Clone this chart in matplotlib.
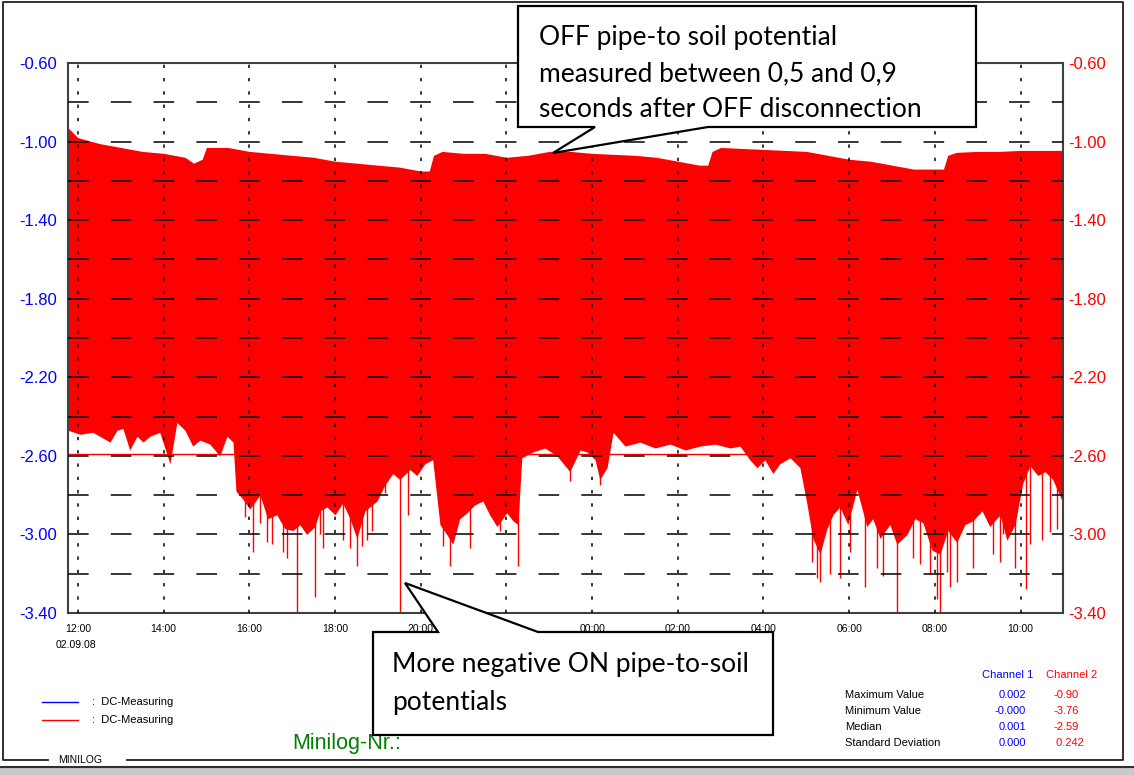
import numpy as np
import matplotlib
matplotlib.use("Agg")
import matplotlib.pyplot as plt
from matplotlib.patches import Polygon, Rectangle
from matplotlib.lines import Line2D

# time axis in hours since midnight of 02.09.08 (values > 24 are the next day)
t_upper = [11.77, 12.0, 12.5, 13.0, 13.5, 14.0, 14.5, 14.7, 14.9, 15.0, 15.5, 16.0,
           16.5, 17.0, 17.5, 18.0, 18.5, 19.0, 19.5, 20.0, 20.2, 20.3, 20.5, 21.0,
           21.5, 22.0, 22.5, 23.0, 23.5, 24.0, 24.5, 25.0, 25.5, 26.0, 26.5, 26.7,
           26.8, 27.0, 27.5, 28.0, 28.5, 29.0, 29.5, 30.0, 30.5, 31.0, 31.5, 32.0,
           32.2, 32.3, 32.5, 33.0, 33.5, 34.0, 34.5, 34.99]
v_upper = [-0.93, -0.98, -1.01, -1.03, -1.05, -1.06, -1.08, -1.11, -1.09, -1.03, -1.03, -1.05,
           -1.06, -1.07, -1.08, -1.10, -1.11, -1.12, -1.13, -1.15, -1.15, -1.07, -1.05, -1.06,
           -1.06, -1.08, -1.07, -1.05, -1.05, -1.06, -1.065, -1.07, -1.08, -1.10, -1.12, -1.12,
           -1.05, -1.03, -1.035, -1.04, -1.045, -1.05, -1.07, -1.09, -1.10, -1.12, -1.14, -1.14,
           -1.14, -1.07, -1.055, -1.05, -1.05, -1.045, -1.045, -1.045]

t_lower = [11.77, 12.05, 12.35, 12.51, 12.75, 12.91, 13.05, 13.21, 13.38, 13.52, 13.68, 13.91,
           14.15, 14.31, 14.50, 14.68, 14.85, 15.08, 15.31, 15.48, 15.62, 15.69, 15.85, 16.01,
           16.25, 16.43, 16.64, 16.83, 17.02, 17.18, 17.34, 17.53, 17.65, 17.81, 18.00, 18.18,
           18.35, 18.51, 18.70, 18.98, 19.16, 19.35, 19.51, 19.75, 19.91, 20.10, 20.28, 20.45,
           20.61, 20.75, 20.91, 21.08, 21.26, 21.45, 21.61, 21.78, 22.01, 22.15, 22.27, 22.36,
           22.62, 22.90, 23.18, 23.48, 23.72, 23.88, 24.07, 24.18, 24.35, 24.49, 24.77, 25.12,
           25.47, 25.82, 26.17, 26.52, 26.87, 27.22, 27.45, 27.68, 27.85, 28.03, 28.22, 28.38,
           28.62, 28.85, 29.01, 29.15, 29.32, 29.48, 29.62, 29.78, 29.97, 30.18, 30.41, 30.55,
           30.72, 30.95, 31.11, 31.35, 31.53, 31.72, 31.93, 32.12, 32.30, 32.51, 32.70, 32.89,
           33.10, 33.28, 33.52, 33.68, 33.87, 34.05, 34.22, 34.40, 34.57, 34.75, 34.99]
v_lower = [-2.47, -2.49, -2.48, -2.50, -2.53, -2.47, -2.46, -2.57, -2.50, -2.53, -2.50, -2.48,
           -2.64, -2.43, -2.47, -2.55, -2.52, -2.54, -2.60, -2.50, -2.53, -2.78, -2.82, -2.87,
           -2.80, -2.92, -2.90, -2.97, -2.98, -2.95, -3.00, -2.96, -2.88, -2.86, -2.90, -2.84,
           -2.92, -3.02, -2.88, -2.83, -2.75, -2.69, -2.72, -2.67, -2.70, -2.64, -2.62, -2.95,
           -3.00, -3.05, -2.92, -2.89, -2.85, -2.83, -2.90, -2.96, -2.89, -2.93, -2.95, -2.61,
           -2.58, -2.56, -2.60, -2.68, -2.57, -2.58, -2.62, -2.72, -2.66, -2.48, -2.55, -2.53,
           -2.56, -2.54, -2.57, -2.55, -2.54, -2.56, -2.55, -2.62, -2.66, -2.62, -2.69, -2.64,
           -2.61, -2.66, -2.84, -3.02, -3.10, -2.97, -2.90, -2.86, -2.95, -2.77, -2.96, -2.92,
           -3.02, -2.95, -3.05, -3.00, -2.92, -2.94, -3.08, -3.10, -2.98, -3.04, -2.95, -2.93,
           -2.88, -2.96, -2.90, -3.03, -2.95, -2.74, -2.65, -2.70, -2.68, -2.72, -2.84]

# single deep ON readings
spike_t = [15.90, 16.08, 16.25, 16.41, 16.53, 16.78, 16.88, 17.11, 17.34, 17.53, 17.65,
           17.72, 18.18, 18.35, 18.51, 18.63, 18.74, 18.86, 19.16, 19.51, 19.70,
           20.52, 20.68, 21.15, 21.85, 22.27, 23.48, 24.18, 29.13, 29.25, 29.32, 29.55,
           29.78, 30.01, 30.37, 30.65, 30.79, 31.11, 31.25, 31.49, 31.65, 31.88, 32.05,
           32.12, 32.28, 32.35, 32.51, 32.89, 33.35, 33.52, 33.59, 33.87, 34.12, 34.22,
           34.50, 34.68, 34.85]
spike_v = [-2.91, -3.09, -2.94, -3.04, -3.05, -3.09, -3.12, -3.40, -2.99, -3.32, -3.00,
           -3.07, -3.03, -3.07, -3.16, -3.06, -3.03, -2.98, -2.79, -3.40, -2.90,
           -3.06, -3.16, -3.07, -2.98, -3.16, -2.73, -2.75, -3.14, -3.22, -3.24, -3.20,
           -3.22, -3.09, -3.27, -3.17, -3.21, -3.40, -3.01, -3.12, -3.15, -3.20, -3.33,
           -3.40, -3.19, -3.27, -3.24, -3.17, -3.10, -3.14, -3.00, -3.17, -3.28, -3.05,
           -3.03, -2.99, -2.97]

median_ch2 = -2.59

x_ticks = [12, 14, 16, 18, 20, 22, 24, 26, 28, 30, 32, 34]
x_labels = ["12:00", "14:00", "16:00", "18:00", "20:00", "", "00:00", "02:00",
            "04:00", "06:00", "08:00", "10:00"]
y_ticks = [-0.6, -1.0, -1.4, -1.8, -2.2, -2.6, -3.0, -3.4]
y_grid = [-0.8, -1.0, -1.2, -1.4, -1.6, -1.8, -2.0, -2.2, -2.4, -2.6, -2.8, -3.0, -3.2]

stat_names = ["Maximum Value", "Minimum Value", "Median", "Standard Deviation"]
stat_ch1 = ["0.002", "-0.000", "0.001", "0.000"]
stat_ch2 = ["-0.90", "-3.76", "-2.59", " 0.242"]

W, H = 1134, 775
def fx(x):
    return x / W
def fy(y):
    return 1 - y / H

sans = ["Liberation Sans", "DejaVu Sans"]
callout_font = ["Lato", "DejaVu Sans"]

fig = plt.figure(figsize=(W / 100, H / 100), dpi=100)
ax = fig.add_axes([fx(68), fy(613), (1063 - 68) / W, (613 - 63) / H])

red = "#ff0000"
ax.axhline(median_ch2, color=red, lw=1, zorder=1)
ax.fill_between(t_upper, v_upper, -2.1, color=red, lw=0, zorder=2)
ax.fill_between(t_lower, -1.9, v_lower, color=red, lw=0, zorder=2)
ax.vlines(spike_t, -2.45, spike_v, color=red, lw=1, zorder=2)

for v in y_grid:
    ax.axhline(v, color="black", lw=1.1, dashes=(13.5, 14.5), zorder=3)
for t in x_ticks:
    ax.axvline(t, color="black", lw=1.1, dashes=(2.2, 6.5), zorder=3)

ax.set_xlim(11.77, 34.99)
ax.set_ylim(-3.4, -0.6)
ax.set_xticks(x_ticks)
ax.set_xticklabels(x_labels, fontsize=7.5, family=sans)
ax.set_yticks(y_ticks)
ax.set_yticklabels([f"{v:.2f}" for v in y_ticks], fontsize=12, family=sans, color="#0000ff")
ax.tick_params(length=0, pad=8)
ax.tick_params(axis="y", pad=8)
for s in ax.spines.values():
    s.set_color("#404040")
    s.set_linewidth(1.5)

ax2 = ax.twinx()
ax2.set_ylim(-3.4, -0.6)
ax2.set_yticks(y_ticks)
ax2.set_yticklabels([f"{v:.2f}" for v in y_ticks], fontsize=12, family=sans, color=red)
ax2.tick_params(length=0, pad=4)
ax2.spines[:].set_visible(False)

fig.text(fx(76), fy(645), "02.09.08", fontsize=7.5, family=sans, ha="center", va="center")

# legend
fig.add_artist(Line2D([fx(42), fx(78)], [fy(702), fy(702)], color="#0000ff", lw=1))
fig.add_artist(Line2D([fx(42), fx(78)], [fy(720), fy(720)], color=red, lw=1))
fig.text(fx(92), fy(702), ":  DC-Measuring", fontsize=8, family=sans, va="center")
fig.text(fx(92), fy(720), ":  DC-Measuring", fontsize=8, family=sans, va="center")

fig.text(fx(292), fy(743), "Minilog-Nr.:", fontsize=15.5, family=sans, color="#008000", va="center")

# statistics table
fig.text(fx(1008), fy(675), "Channel 1", fontsize=8, family=sans, color="#0000ff", ha="center", va="center")
fig.text(fx(1072), fy(675), "Channel 2", fontsize=8, family=sans, color=red, ha="center", va="center")
for i, name in enumerate(stat_names):
    y = 695 + i * 16
    fig.text(fx(845), fy(y), name, fontsize=8, family=sans, va="center")
    fig.text(fx(1026), fy(y), stat_ch1[i], fontsize=8, family=sans, color="#0000ff", ha="right", va="center")
    fig.text(fx(1053), fy(y), stat_ch2[i], fontsize=8, family=sans, color=red, va="center")

# outer frame
frame = [(48, 760), (3, 760), (3, 2), (1123, 2), (1123, 760), (127, 760)]
fig.add_artist(Line2D([fx(p[0]) for p in frame], [fy(p[1]) for p in frame], color="#202020", lw=1.3))
fig.text(fx(58), fy(760), "MINILOG", fontsize=7.5, family=sans, va="center")
fig.add_artist(Rectangle((0, 0), 1, fy(767), transform=fig.transFigure, color="#c8c8c8", zorder=4))
fig.add_artist(Line2D([0, 1], [fy(767), fy(767)], color="#303030", lw=1.5, zorder=5))

# callouts
top_box = [(518, 6), (976, 6), (976, 127), (708, 127), (553, 153), (595, 127), (518, 127)]
bot_box = [(373, 632), (438, 632), (405, 583), (538, 632), (773, 632), (773, 735), (373, 735)]
for pts in (top_box, bot_box):
    fig.add_artist(Polygon([(fx(x), fy(y)) for x, y in pts], closed=True, transform=fig.transFigure,
                           facecolor="white", edgecolor="black", lw=1.6, zorder=10))

top_lines = ["OFF pipe-to soil potential", "measured between 0,5 and 0,9",
             "seconds after OFF disconnection"]
for i, s in enumerate(top_lines):
    fig.text(fx(539), fy(45 + i * 36), s, fontsize=19, family=callout_font, va="baseline", zorder=11)
bot_lines = ["More negative ON pipe-to-soil", "potentials"]
for i, s in enumerate(bot_lines):
    fig.text(fx(392), fy(672 + i * 38), s, fontsize=19, family=callout_font, va="baseline", zorder=11)

fig.savefig("out.png", dpi=100)
